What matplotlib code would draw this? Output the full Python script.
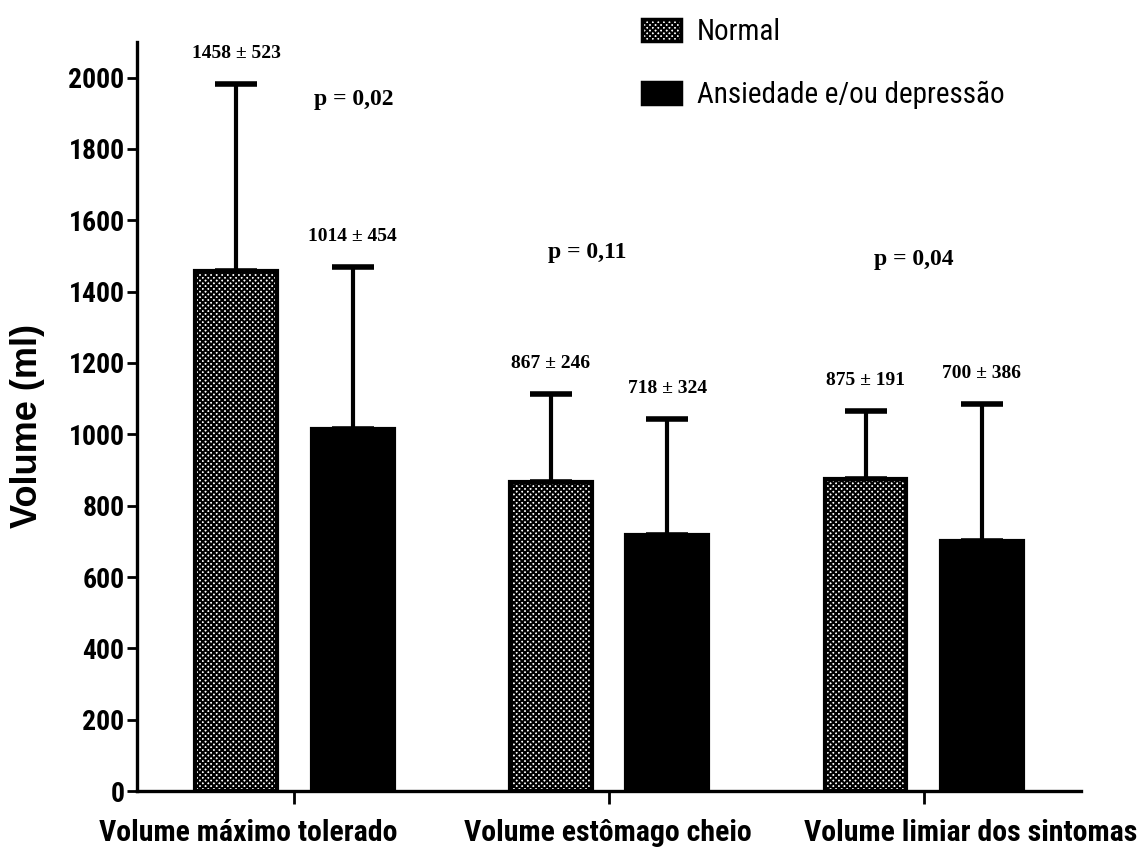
import matplotlib
matplotlib.use("Agg")
import matplotlib.pyplot as plt
import matplotlib.transforms as mtransforms
from matplotlib.patches import Patch
from matplotlib import font_manager
import numpy as np

# ---- data ----
categories = ["Volume máximo tolerado", "Volume estômago cheio", "Volume limiar dos sintomas"]
groups = ["Normal", "Ansiedade e/ou depressão"]
normal_mean = [1458, 867, 875]
normal_sd = [523, 246, 191]
anx_mean = [1014, 718, 700]
anx_sd = [454, 324, 386]
p_values = ["p = 0,02", "p = 0,11", "p = 0,04"]
y_ticks = [0, 200, 400, 600, 800, 1000, 1200, 1400, 1600, 1800, 2000]

available = {f.name for f in font_manager.fontManager.ttflist}


def pick(options, default):
    for name in options:
        if name in available:
            return name
    return default


narrow = pick(["Arial Narrow", "Liberation Sans Narrow", "Roboto Condensed",
               "Archivo Narrow", "PT Sans Narrow", "Open Sans Condensed"], "Liberation Sans")
sans = "Liberation Sans"
serif = pick(["Times New Roman", "Liberation Serif"], "DejaVu Serif")

fig = plt.figure(figsize=(11.43, 8.5), dpi=100)
ax = fig.add_axes([0.1199, 0.0694, 0.8259, 0.8812])

x = np.arange(len(categories))
offset = 0.185
width = 0.26

plt.rcParams["hatch.linewidth"] = 1.5

bars_n = ax.bar(x - offset, normal_mean, width, facecolor="white", edgecolor="black",
                hatch="xxxxxx", linewidth=3.0, zorder=3)
bars_a = ax.bar(x + offset, anx_mean, width, facecolor="black", edgecolor="black",
                linewidth=3.0, zorder=3)

# upward-only error bars
for xs, m, s in ((x - offset, normal_mean, normal_sd), (x + offset, anx_mean, anx_sd)):
    ax.errorbar(xs, m, yerr=[np.zeros(len(s)), s], fmt="none", ecolor="black",
                elinewidth=3.0, capsize=15, capthick=4.0, zorder=2)

# mean ± sd annotations above caps
for xs, m, s in ((x - offset, normal_mean, normal_sd), (x + offset, anx_mean, anx_sd)):
    for xi, mi, si in zip(xs, m, s):
        ax.annotate(f"{mi} ± {si}", xy=(xi, mi + si), xytext=(0, 22),
                    textcoords="offset points", ha="center", va="center",
                    fontfamily=serif, fontweight="bold", fontsize=14)

# p-values
p_pos = [(0.19, 1940), (0.93, 1510), (1.97, 1490)]
for (px, py), txt in zip(p_pos, p_values):
    ax.text(px, py, txt, ha="center", va="center", fontfamily=serif,
            fontweight="bold", fontsize=17)

ax.set_xlim(-0.5, 2.5)
ax.set_ylim(0, 2100)
ax.set_yticks(y_ticks)
ax.set_yticklabels([str(v) for v in y_ticks], fontfamily=narrow, fontweight="bold", fontsize=20)
ax.set_xticks(x)
ax.set_xticklabels([])
ax.tick_params(axis="y", length=7, width=2, pad=2)
ax.tick_params(axis="x", length=9, width=2)

for side in ("top", "right"):
    ax.spines[side].set_visible(False)
for side in ("left", "bottom"):
    ax.spines[side].set_linewidth(2.4)

# category labels
label_x = [-0.147, 0.997, 2.148]
trans = mtransforms.blended_transform_factory(ax.transData, ax.transAxes)
for lx, cat in zip(label_x, categories):
    ax.text(lx, -0.056, cat, transform=trans, ha="center", va="center",
            fontfamily=narrow, fontweight="bold", fontsize=21.5)

fig.text(0.024, 1 - 426 / 850, "Volume (ml)", rotation=90, ha="center", va="center",
         fontfamily=sans, fontweight="bold", fontsize=26)

handles = [Patch(facecolor="white", edgecolor="black", hatch="xxxxxx", linewidth=2.5),
           Patch(facecolor="black", edgecolor="black", linewidth=2.5)]
fig.legend(handles, groups, loc="upper left", bbox_to_anchor=(642 / 1143, 1 - 18 / 850),
           frameon=False, borderpad=0, borderaxespad=0, handlelength=1.34,
           handleheight=0.75, handletextpad=0.55, labelspacing=1.2,
           prop={"family": narrow, "size": 21})

fig.savefig("out.png", dpi=100, facecolor="white")
